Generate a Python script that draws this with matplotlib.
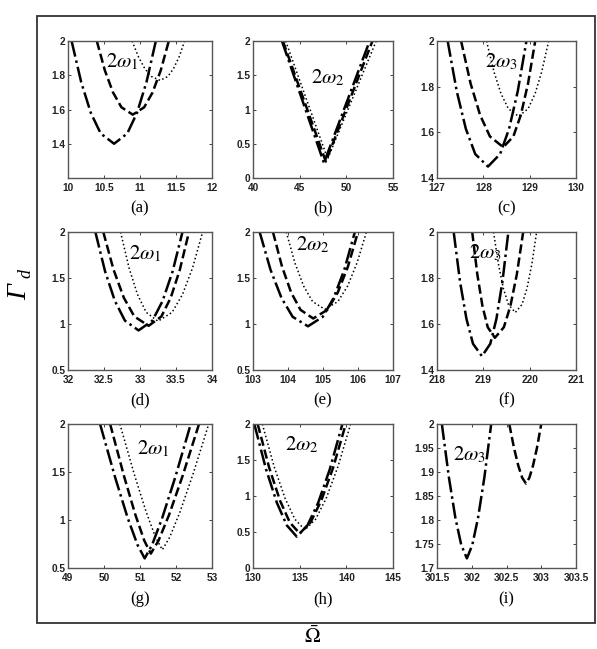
import matplotlib
matplotlib.use('Agg')
import matplotlib.pyplot as plt
from matplotlib.patches import Rectangle

plt.rcParams['mathtext.fontset'] = 'stix'

W, H = 597, 649

# curves: dash-dot (dd), dashed (da), dotted (dt)
a_dd_x = [10.05, 10.183, 10.317, 10.454, 10.64, 10.823, 10.958, 11.09, 11.22]
a_dd_y = [2.0, 1.76, 1.58, 1.46, 1.40, 1.46, 1.58, 1.76, 2.0]
a_da_x = [10.40, 10.512, 10.626, 10.742, 10.90, 11.058, 11.174, 11.288, 11.40]
a_da_y = [2.0, 1.828, 1.699, 1.613, 1.57, 1.613, 1.699, 1.828, 2.0]
a_dt_x = [10.89, 10.978, 11.066, 11.157, 11.28, 11.387, 11.466, 11.544, 11.62]
a_dt_y = [2.0, 1.908, 1.839, 1.793, 1.77, 1.793, 1.839, 1.908, 2.0]

b_dd_x = [43.1, 47.6, 52.5]
b_dd_y = [2.0, 0.22, 2.0]
b_da_x = [43.2, 47.8, 52.8]
b_da_y = [2.0, 0.24, 2.0]
b_dt_x = [43.5, 48.0, 53.2]
b_dt_y = [2.0, 0.28, 2.0]

c_dd_x = [127.23, 127.426, 127.623, 127.825, 128.10, 128.362, 128.555, 128.743, 128.93]
c_dd_y = [2.0, 1.78, 1.615, 1.505, 1.45, 1.505, 1.615, 1.78, 2.0]
c_da_x = [127.52, 127.725, 127.931, 128.142, 128.43, 128.648, 128.808, 128.965, 129.12]
c_da_y = [2.0, 1.814, 1.675, 1.582, 1.535, 1.582, 1.675, 1.814, 2.0]
c_dt_x = [128.07, 128.225, 128.382, 128.542, 128.76, 128.965, 129.116, 129.264, 129.41]
c_dt_y = [2.0, 1.868, 1.769, 1.703, 1.67, 1.703, 1.769, 1.868, 2.0]

d_dd_x = [32.38, 32.515, 32.651, 32.79, 32.98, 33.173, 33.314, 33.453, 33.59]
d_dd_y = [2.0, 1.572, 1.251, 1.037, 0.93, 1.037, 1.251, 1.572, 2.0]
d_da_x = [32.49, 32.632, 32.775, 32.921, 33.12, 33.297, 33.427, 33.554, 33.68]
d_da_y = [2.0, 1.592, 1.286, 1.082, 0.98, 1.082, 1.286, 1.592, 2.0]
d_dt_x = [32.73, 32.847, 32.965, 33.086, 33.25, 33.446, 33.59, 33.731, 33.87]
d_dt_y = [2.0, 1.612, 1.321, 1.127, 1.03, 1.127, 1.321, 1.612, 2.0]

e_dd_x = [103.19, 103.50, 103.814, 104.134, 104.57, 104.993, 105.304, 105.609, 105.91]
e_dd_y = [2.0, 1.59, 1.283, 1.078, 0.975, 1.078, 1.283, 1.59, 2.0]
e_da_x = [103.57, 103.829, 104.09, 104.357, 104.72, 105.124, 105.421, 105.712, 106.0]
e_da_y = [2.0, 1.624, 1.342, 1.154, 1.06, 1.154, 1.342, 1.624, 2.0]
e_dt_x = [103.95, 104.197, 104.447, 104.702, 105.05, 105.426, 105.702, 105.972, 106.24]
e_dt_y = [2.0, 1.664, 1.412, 1.244, 1.16, 1.244, 1.412, 1.664, 2.0]

f_dd_x = [218.36, 218.497, 218.636, 218.777, 218.97, 219.15, 219.282, 219.412, 219.54]
f_dd_y = [2.0, 1.784, 1.622, 1.514, 1.46, 1.514, 1.622, 1.784, 2.0]
f_da_x = [218.76, 218.87, 218.981, 219.095, 219.25, 219.443, 219.584, 219.723, 219.86]
f_da_y = [2.0, 1.816, 1.678, 1.586, 1.54, 1.586, 1.678, 1.816, 2.0]
f_dt_x = [219.22, 219.326, 219.432, 219.541, 219.69, 219.835, 219.942, 220.047, 220.15]
f_dt_y = [2.0, 1.86, 1.755, 1.685, 1.65, 1.685, 1.755, 1.86, 2.0]

g_dd_x = [49.89, 50.312, 50.659, 50.932, 51.13, 51.335, 51.616, 51.975, 52.41]
g_dd_y = [2.0, 1.44, 1.02, 0.74, 0.60, 0.74, 1.02, 1.44, 2.0]
g_da_x = [50.17, 50.554, 50.871, 51.119, 51.30, 51.514, 51.809, 52.184, 52.64]
g_da_y = [2.0, 1.46, 1.055, 0.785, 0.65, 0.785, 1.055, 1.46, 2.0]
g_dt_x = [50.44, 50.841, 51.172, 51.431, 51.62, 51.826, 52.11, 52.471, 52.91]
g_dt_y = [2.0, 1.476, 1.083, 0.821, 0.69, 0.821, 1.083, 1.476, 2.0]

h_dd_x = [130.14, 131.391, 132.561, 133.625, 134.69, 135.834, 136.979, 138.235, 139.58]
h_dd_y = [2.0, 1.374, 0.905, 0.592, 0.435, 0.592, 0.905, 1.374, 2.0]
h_da_x = [130.5, 131.737, 132.894, 133.947, 135.0, 136.156, 137.312, 138.582, 139.94]
h_da_y = [2.0, 1.392, 0.936, 0.632, 0.48, 0.632, 0.936, 1.392, 2.0]
h_dt_x = [131.0, 132.254, 133.426, 134.493, 135.56, 136.707, 137.853, 139.113, 140.46]
h_dt_y = [2.0, 1.412, 0.971, 0.677, 0.53, 0.677, 0.971, 1.412, 2.0]

i_dd_x = [301.57, 301.672, 301.765, 301.849, 301.93, 302.008, 302.09, 302.181, 302.28]
i_dd_y = [2.0, 1.888, 1.804, 1.748, 1.72, 1.748, 1.804, 1.888, 2.0]
i_da_x = [302.54, 302.608, 302.67, 302.726, 302.78, 302.829, 302.881, 302.938, 303.0]
i_da_y = [2.0, 1.95, 1.913, 1.888, 1.876, 1.888, 1.913, 1.95, 2.0]

# ticks
a_xt = [10, 10.5, 11, 11.5, 12]
a_yt = [1.4, 1.6, 1.8, 2]
b_xt = [40, 45, 50, 55]
b_yt = [0, 0.5, 1, 1.5, 2]
c_xt = [127, 128, 129, 130]
c_yt = [1.4, 1.6, 1.8, 2]
d_xt = [32, 32.5, 33, 33.5, 34]
d_yt = [0.5, 1, 1.5, 2]
e_xt = [103, 104, 105, 106, 107]
e_yt = [0.5, 1, 1.5, 2]
f_xt = [218, 219, 220, 221]
f_yt = [1.4, 1.6, 1.8, 2]
g_xt = [49, 50, 51, 52, 53]
g_yt = [0.5, 1, 1.5, 2]
h_xt = [130, 135, 140, 145]
h_yt = [0, 0.5, 1, 1.5, 2]
i_xt = [301.5, 302, 302.5, 303, 303.5]
i_yt = [1.7, 1.75, 1.8, 1.85, 1.9, 1.95, 2]

panels = [
    ('(a)', [(a_dd_x, a_dd_y), (a_da_x, a_da_y), (a_dt_x, a_dt_y)], (10, 12), (1.2, 2), a_xt, a_yt, '$2\\omega_1$', (10.75, 1.88)),
    ('(b)', [(b_dd_x, b_dd_y), (b_da_x, b_da_y), (b_dt_x, b_dt_y)], (40, 55), (0, 2), b_xt, b_yt, '$2\\omega_2$', (48.0, 1.47)),
    ('(c)', [(c_dd_x, c_dd_y), (c_da_x, c_da_y), (c_dt_x, c_dt_y)], (127, 130), (1.4, 2), c_xt, c_yt, '$2\\omega_3$', (128.4, 1.91)),
    ('(d)', [(d_dd_x, d_dd_y), (d_da_x, d_da_y), (d_dt_x, d_dt_y)], (32, 34), (0.5, 2), d_xt, d_yt, '$2\\omega_1$', (33.08, 1.77)),
    ('(e)', [(e_dd_x, e_dd_y), (e_da_x, e_da_y), (e_dt_x, e_dt_y)], (103, 107), (0.5, 2), e_xt, e_yt, '$2\\omega_2$', (104.72, 1.86)),
    ('(f)', [(f_dd_x, f_dd_y), (f_da_x, f_da_y), (f_dt_x, f_dt_y)], (218, 221), (1.4, 2), f_xt, f_yt, '$2\\omega_3$', (219.05, 1.91)),
    ('(g)', [(g_dd_x, g_dd_y), (g_da_x, g_da_y), (g_dt_x, g_dt_y)], (49, 53), (0.5, 2), g_xt, g_yt, '$2\\omega_1$', (51.36, 1.74)),
    ('(h)', [(h_dd_x, h_dd_y), (h_da_x, h_da_y), (h_dt_x, h_dt_y)], (130, 145), (0, 2), h_xt, h_yt, '$2\\omega_2$', (135.2, 1.71)),
    ('(i)', [(i_dd_x, i_dd_y), (i_da_x, i_da_y)], (301.5, 303.5), (1.7, 2), i_xt, i_yt, '$2\\omega_3$', (301.97, 1.937)),
]

cols = [(68, 212), (253, 393), (437, 576)]
rows = [(41, 178), (232, 370), (424, 568)]
cap_y = [208, 400, 599]

styles = [dict(ls='-.', lw=1.8), dict(ls='--', lw=1.8), dict(ls=':', lw=1.1)]
tickfont = dict(family='Liberation Sans', weight='bold', size=7.3)

fig = plt.figure(figsize=(W / 100, H / 100), dpi=100)

for k, (cap, curves, xl, yl, xt, yt, lab, lpos) in enumerate(panels):
    r, c = divmod(k, 3)
    x0, x1 = cols[c]
    y0, y1 = rows[r]
    ax = fig.add_axes([x0 / W, 1 - y1 / H, (x1 - x0) / W, (y1 - y0) / H])
    for (cx, cy), st in zip(curves, styles):
        ax.plot(cx, cy, color='black', **st)
    ax.set_xlim(*xl)
    ax.set_ylim(*yl)
    ax.set_xticks(xt)
    ax.set_xticklabels(['%g' % v for v in xt], **tickfont)
    ax.set_yticks(yt)
    ax.set_yticklabels(['%g' % v for v in yt], **tickfont)
    ax.tick_params(direction='in', top=True, right=True, length=2.5, width=0.6, colors='#222222')
    ax.tick_params(axis='x', pad=3.5)
    ax.tick_params(axis='y', pad=2)
    for s in ax.spines.values():
        s.set_color('#555555')
        s.set_linewidth(1.0)
    ax.text(lpos[0], lpos[1], lab, fontsize=15, ha='center', va='center')
    fig.text((x0 + x1) / 2 / W, 1 - cap_y[r] / H, cap, fontsize=12,
             family='Liberation Serif', ha='center', va='center')

# outer frame
fig.patches.append(Rectangle((37 / W, 1 - 623 / H), (595 - 37) / W, (623 - 16) / H,
                             transform=fig.transFigure, fill=False, lw=1.3, ec='#333333'))

# y label: italic Gamma with subscript d, rotated
fig.text(20 / W, 1 - 292 / H, 'Γ', fontsize=20, rotation=90, style='italic',
         family='Liberation Serif', ha='center', va='center')
fig.text(26 / W, 1 - 273 / H, 'd', fontsize=13, rotation=90, style='italic',
         family='Liberation Serif', ha='center', va='center')
fig.text(313 / W, 1 - 625 / H, '$\\bar{\\Omega}$', fontsize=15, ha='center', va='top')

fig.savefig('out.png', dpi=100)
